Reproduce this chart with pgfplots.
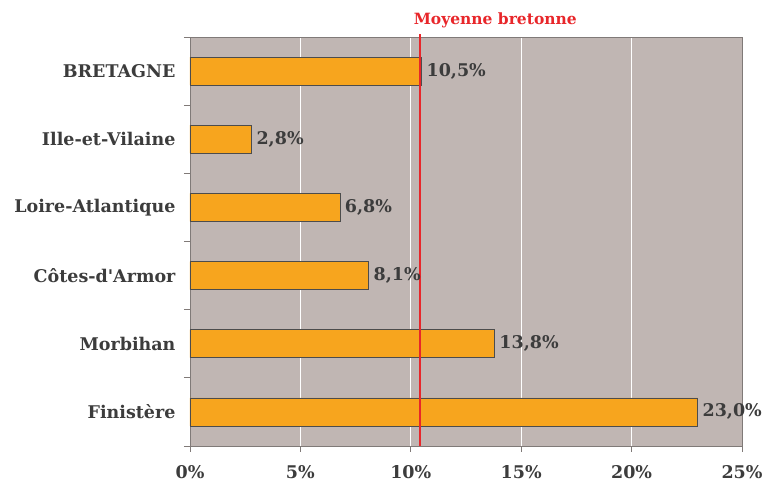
\documentclass[border=0pt]{standalone}
\usepackage{pgfplots}
\pgfplotsset{compat=1.18}
\usepackage{fontspec}
\setmainfont{DejaVu Serif}[Ligatures=TeXOff]
\definecolor{bg}{RGB}{192,182,179}
\definecolor{barc}{RGB}{247,165,30}
\definecolor{txt}{RGB}{60,60,60}
\definecolor{redl}{RGB}{232,38,42}
\definecolor{axc}{RGB}{128,122,120}
\begin{document}
\begin{tikzpicture}
\path[use as bounding box] (-190pt,-40pt) rectangle (582pt,446pt);
\begin{axis}[
  at={(0,0)}, anchor=south west,
  scale only axis, width=552pt, height=409pt,
  xmin=0, xmax=25, ymin=-0.5, ymax=5.5,
  xtick={0,5,10,15,20,25},
  xticklabel={\pgfmathprintnumber{\tick}\%},
  /pgf/number format/assume math mode=true,
  ytick={-0.5,0.5,1.5,2.5,3.5,4.5,5.5},
  yticklabels={},
  extra y ticks={0,1,2,3,4,5},
  extra y tick labels={Finistère,Morbihan,Côtes-d'Armor,Loire-Atlantique,Ille-et-Vilaine,BRETAGNE},
  extra y tick style={major tick length=0pt},
  y tick style={axc, line width=0.8pt},
  x tick style={axc, line width=0.8pt},
  major tick length=6pt,
  tick align=outside,
  xtick pos=bottom,
  ytick pos=left,
  xmajorgrids, grid style={white, line width=0.8pt},
  axis background/.style={fill=bg},
  axis line style={draw=axc, line width=0.8pt},
  ticklabel style={font=\bfseries\fontsize{17.5}{19}\selectfont, text=txt},
  xticklabel style={yshift=-10pt},
  extra y tick style={yticklabel style={xshift=-11pt}},
  clip=false,
]
\addplot[xbar, bar width=28pt, bar shift=0pt, fill=barc, draw=black!70, line width=0.8pt,
  point meta=x,
  nodes near coords={\pgfmathprintnumber[fixed,fixed zerofill,precision=1,use comma]{\pgfplotspointmeta}\%},
  nodes near coords style={font=\bfseries\fontsize{17.5}{19}\selectfont, text=txt, anchor=west, xshift=1pt}] coordinates {
  (23.0,0) (13.8,1) (8.1,2) (6.8,3) (2.8,4) (10.5,5)
};
\addplot[color=redl, line width=2.2pt, sharp plot, mark=none, forget plot] coordinates {(10.4,-0.5) (10.4,5.55)};
\node[text=redl, font=\bfseries\fontsize{15.5}{17}\selectfont, anchor=south west, inner sep=0pt] at (axis cs:10.4,5.55) [xshift=-6pt, yshift=5pt] {Moyenne bretonne};
\end{axis}
\end{tikzpicture}
\end{document}
